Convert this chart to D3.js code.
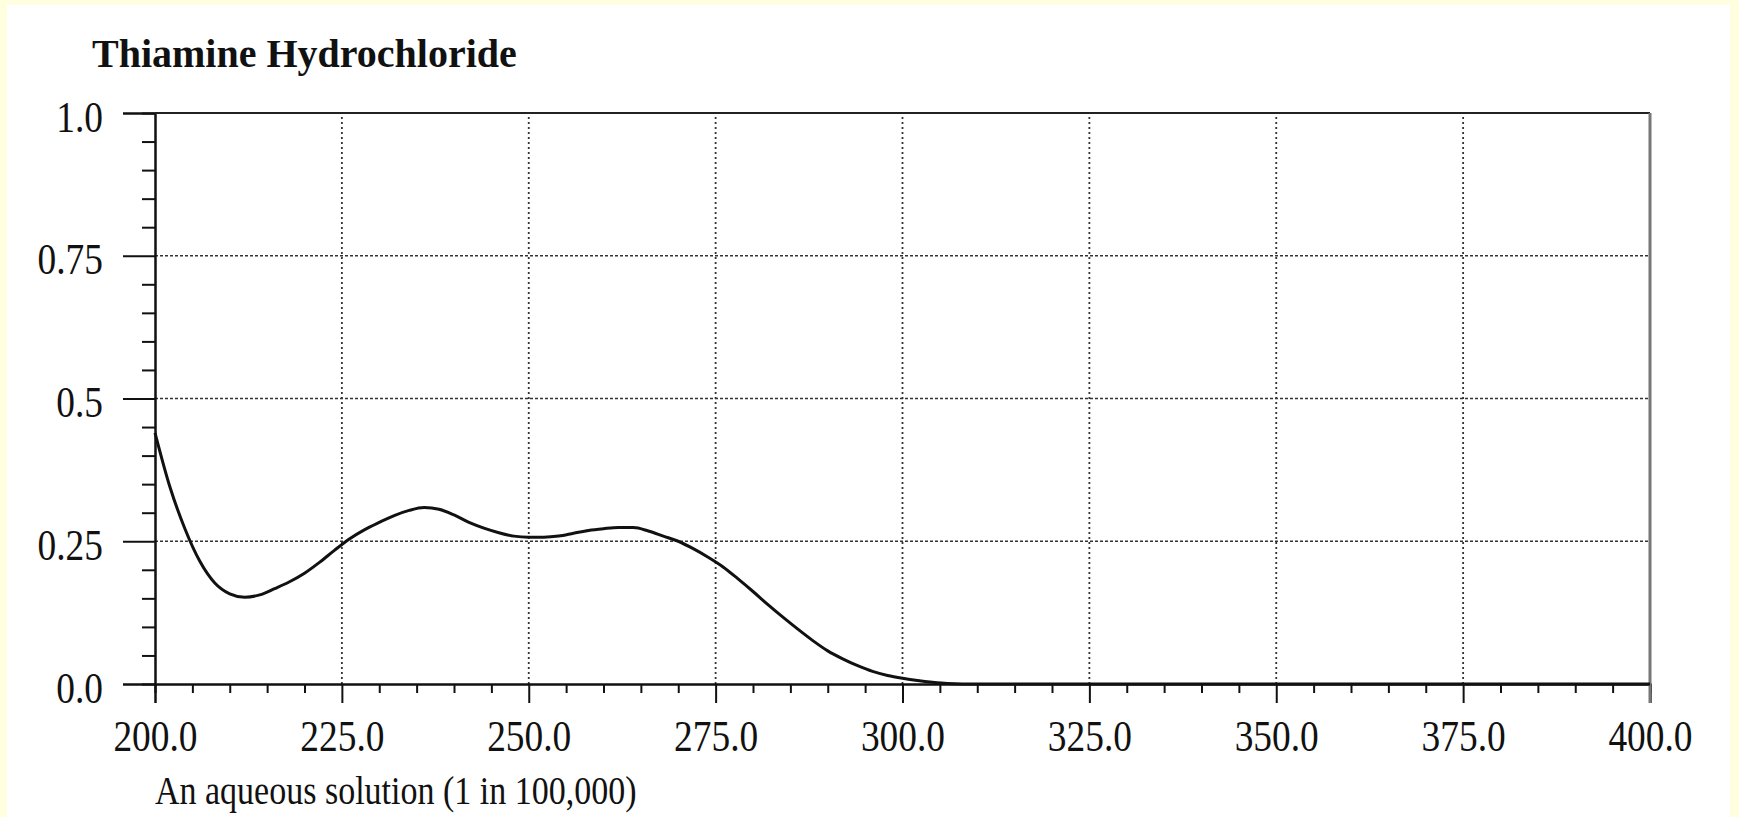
<!DOCTYPE html>
<html>
<head>
<meta charset="utf-8">
<title>Thiamine Hydrochloride</title>
<script src="https://cdn.jsdelivr.net/npm/d3@7"></script>
<style>
  html, body { margin:0; padding:0; background:#ffffe0; }
  svg { display:block; }
  text { font-family:"Liberation Serif","Times New Roman",serif; fill:#111; }
</style>
</head>
<body>
<script>
// spectrum
var wavelengths = [200,202,204,206,208,210,212,214,216,218,220,222,224,226,228,230,232,234,236,238,
                   240,242,244,246,248,250,252,254,256,258,260,262,264,266,268,270,272,274,276,278,
                   280,282,284,286,288,290,292,294,296,298,300,302,304,306,310,320,340,360,380,400];
var absorbance  = [0.440,0.345,0.272,0.215,0.177,0.158,0.152,0.156,0.167,0.179,0.194,0.213,0.234,0.254,0.270,0.283,0.295,0.304,0.309,0.306,
                   0.296,0.283,0.273,0.265,0.259,0.257,0.257,0.259,0.264,0.269,0.272,0.274,0.274,0.268,0.259,0.250,0.237,0.222,0.205,0.184,
                   0.162,0.139,0.117,0.096,0.076,0.058,0.044,0.032,0.022,0.015,0.010,0.006,0.003,0.001,0.000,0.000,0.000,0.000,0.000,0.000];
var xTicks = [200,225,250,275,300,325,350,375,400];
var yTicks = [0,0.25,0.5,0.75,1];
var yTickLabels = ["0.0","0.25","0.5","0.75","1.0"];
var title = "Thiamine Hydrochloride";
var note = "An aqueous solution (1 in 100,000)";

function spectrum(){
  var width = 1739, height = 817;
  var margin = {left:155, right:89, top:113, bottom:133};
  var squeeze = 0.85; // the scanned type is narrower than Times

  var svg = d3.select("body").append("svg")
      .attr("width", width)
      .attr("height", height);

  // white sheet on the yellow page
  svg.append("rect")
      .attr("x", 7).attr("y", 5)
      .attr("width", 1723).attr("height", 812)
      .style("fill", "#ffffff");

  var x = d3.scaleLinear()
      .domain([200,400])
      .range([margin.left, width-margin.right]);

  var y = d3.scaleLinear()
      .domain([0,1])
      .range([height-margin.bottom, margin.top]);

  // grid
  svg.selectAll(".vgrid")
      .data(xTicks.slice(1,-1))
    .enter().append("line")
      .attr("class","vgrid")
      .attr("x1", x).attr("x2", x)
      .attr("y1", y(0)).attr("y2", y(1))
      .style("stroke","#333")
      .style("stroke-width",1.8)
      .style("stroke-dasharray","2,3");

  svg.selectAll(".hgrid")
      .data(yTicks.slice(1,-1))
    .enter().append("line")
      .attr("class","hgrid")
      .attr("x1", x(200)).attr("x2", x(400))
      .attr("y1", y).attr("y2", y)
      .style("stroke","#333")
      .style("stroke-width",1.5)
      .style("stroke-dasharray","3,2");

  // minor ticks
  var minorY = d3.range(0.05,1,0.05).filter(function(d){ return Math.abs(d*4-Math.round(d*4))>1e-6; });
  svg.append("g")
      .attr("transform","translate("+x(200)+",0)")
      .call(d3.axisLeft(y).tickValues(minorY).tickSize(13).tickFormat(""))
      .call(styleAxis);

  var minorX = d3.range(205,400,5).filter(function(d){ return d%25; });
  svg.append("g")
      .attr("transform","translate(0,"+y(0)+")")
      .call(d3.axisBottom(x).tickValues(minorX).tickSize(9).tickFormat(""))
      .call(styleAxis);

  // major axes
  var yAxis = svg.append("g")
      .attr("class","yaxis")
      .attr("transform","translate("+x(200)+",0)")
      .call(d3.axisLeft(y).tickValues(yTicks).tickSize(32).tickPadding(20)
        .tickFormat(function(d,i){ return yTickLabels[i]; }))
      .call(styleAxis);

  var xAxis = svg.append("g")
      .attr("class","xaxis")
      .attr("transform","translate(0,"+y(0)+")")
      .call(d3.axisBottom(x).tickValues(xTicks).tickSize(19).tickPadding(17)
        .tickFormat(d3.format(".1f")))
      .call(styleAxis);

  yAxis.selectAll("text")
      .style("font-size","44px")
      .attr("x", -52/squeeze)
      .attr("dy","0.41em")
      .attr("transform","scale("+squeeze+",1)");

  xAxis.selectAll("text")
      .style("font-size","44px")
      .attr("transform","scale("+squeeze+",1)");

  // frame: top and right
  svg.append("line")
      .attr("x1", x(200)).attr("x2", x(400))
      .attr("y1", y(1)).attr("y2", y(1))
      .style("stroke","#222").style("stroke-width",2);
  svg.append("line")
      .attr("x1", x(400)).attr("x2", x(400))
      .attr("y1", y(1)).attr("y2", y(0)+19)
      .style("stroke","#777").style("stroke-width",3);

  // spectrum
  var data = wavelengths.map(function(d,i){ return [d, absorbance[i]]; });
  var line = d3.line()
      .x(function(d){ return x(d[0]); })
      .y(function(d){ return y(d[1]); })
      .curve(d3.curveMonotoneX);

  svg.append("path")
      .datum(data)
      .attr("d", line)
      .style("fill","none")
      .style("stroke","#111")
      .style("stroke-width",3)
      .style("stroke-linejoin","round");

  svg.append("text")
      .attr("x", 92)
      .attr("y", 67)
      .style("font-size","40px")
      .style("font-weight","bold")
      .text(title);

  svg.append("text")
      .attr("transform","translate("+x(200)+",804)scale("+squeeze+",1)")
      .style("font-size","40px")
      .text(note);

  function styleAxis(g){
    g.select(".domain").style("stroke","#111").style("stroke-width",2);
    g.selectAll(".tick line").style("stroke","#111").style("stroke-width",2);
    g.selectAll("text").style("fill","#111");
  }
}

window.onload = function(){
  spectrum();
};
</script>
</body>
</html>
